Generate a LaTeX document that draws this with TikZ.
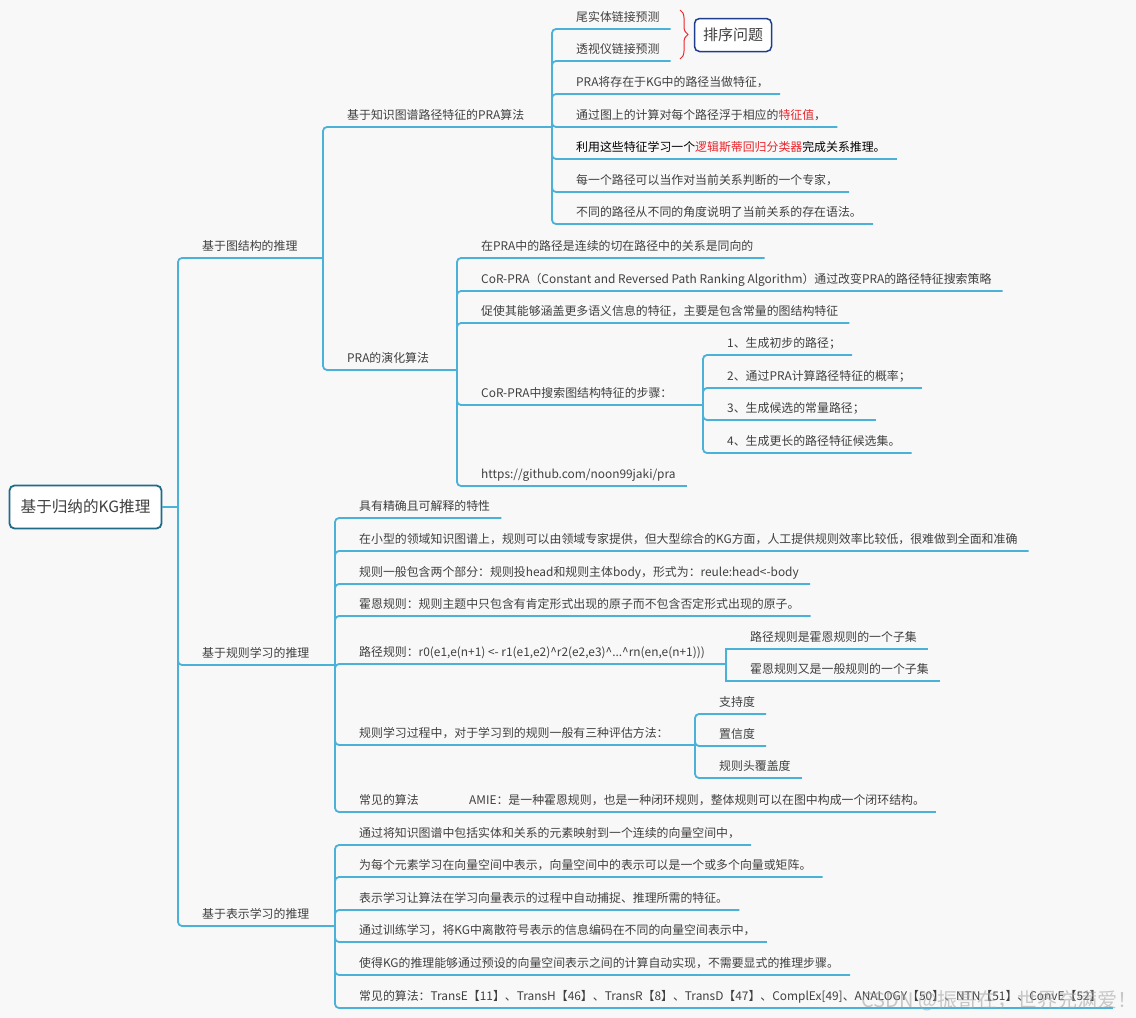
\documentclass[tikz,border=0pt]{standalone}
\usepackage{fontspec}
\setmainfont{Noto Sans CJK SC}
\usetikzlibrary{decorations.pathreplacing}
\definecolor{bg}{HTML}{F8F8F8}
\definecolor{branch}{HTML}{4AB2D8}
\definecolor{ink}{HTML}{404040}
\definecolor{hot}{HTML}{E8262C}
\definecolor{rootline}{HTML}{1F6B88}
\definecolor{tagline}{HTML}{1E3D8C}
\newcommand{\hl}[1]{\textcolor{hot}{#1}}
\newcommand{\ca}{\textasciicircum}

\begin{document}
\begin{tikzpicture}[x=1pt,y=-1pt]
\tikzstyle{topic}=[anchor=south west, inner xsep=11pt, inner ysep=4pt, text height=9pt, text depth=3pt, font=\fontsize{11.9}{14}\selectfont, text=ink]
\tikzstyle{link}=[draw=branch, line width=1.8pt, rounded corners=4pt]
\fill[bg] (0,0) rectangle (1136,1018);
\useasboundingbox (0,0) rectangle (1136,1018);

% root
\node (root) [draw=rootline, line width=1.8pt, rounded corners=5pt, fill=white, minimum width=152pt, minimum height=43pt, font=\fontsize{15.6}{18}\selectfont, text=ink] at (85.5,507) {基于归纳的KG推理};
\coordinate (f0) at (178,507);
\node (g1) [topic] at (191,258) {基于图结构的推理};
\node (g2) [topic] at (191,665) {基于规则学习的推理};
\node (g3) [topic] at (191,926) {基于表示学习的推理};

% graph structure
\coordinate (f1) at (323,258);
\node (a1) [topic] at (336,127) {基于知识图谱路径特征的PRA算法};
\node (a2) [topic] at (336,370) {PRA的演化算法};
\coordinate (fa1) at (552,127);
\node (p1) [topic] at (565,29) {尾实体链接预测};
\node (p2) [topic] at (565,61) {透视仪链接预测};
\node (p3) [topic] at (565,94) {PRA将存在于KG中的路径当做特征，};
\node (p4) [topic] at (565,127) {通过图上的计算对每个路径浮于相应的\hl{特征值}，};
\node (p5) [topic, text=black] at (565,159) {利用这些特征学习一个\hl{逻辑斯蒂回归分类器}完成关系推理。};
\node (p6) [topic] at (565,192) {每一个路径可以当作对当前关系判断的一个专家，};
\node (p7) [topic] at (565,224) {不同的路径从不同的角度说明了当前关系的存在语法。};
\coordinate (bt) at (680,10);
\coordinate (bb) at (680,59);
\node (tag) [draw=tagline, line width=1.5pt, rounded corners=5pt, fill=white, minimum width=77pt, minimum height=33pt, font=\fontsize{15}{18}\selectfont, text=ink] at (733,35) {排序问题};
\coordinate (fa2) at (457,370);
\node (e1) [topic] at (470,258) {在PRA中的路径是连续的切在路径中的关系是同向的};
\node (e2) [topic] at (470,291) {CoR-PRA（Constant and Reversed Path Ranking Algorithm）通过改变PRA的路径特征搜索策略};
\node (e3) [topic] at (470,323) {促使其能够涵盖更多语义信息的特征，主要是包含常量的图结构特征};
\node (e4) [topic] at (470,405) {CoR-PRA中搜索图结构特征的步骤：};
\node (e5) [topic] at (470,486) {https://github.com/noon99jaki/pra};
\coordinate (fe4) at (703,405);
\node (s1) [topic] at (716,355) {1、生成初步的路径；};
\node (s2) [topic] at (716,388) {2、通过PRA计算路径特征的概率；};
\node (s3) [topic] at (716,420) {3、生成候选的常量路径；};
\node (s4) [topic] at (716,453) {4、生成更长的路径特征候选集。};

% rule learning
\coordinate (f2) at (335,665);
\node (r1) [topic] at (348,518) {具有精确且可解释的特性};
\node (r2) [topic] at (348,551) {在小型的领域知识图谱上，规则可以由领域专家提供，但大型综合的KG方面，人工提供规则效率比较低，很难做到全面和准确};
\node (r3) [topic] at (348,584) {规则一般包含两个部分：规则投head和规则主体body，形式为：reule:head<-body};
\node (r4) [topic] at (348,616) {霍恩规则：规则主题中只包含有肯定形式出现的原子而不包含否定形式出现的原子。};
\node (r5) [topic] at (348,664) {路径规则：r0(e1,e(n+1) <- r1(e1,e2)\ca r2(e2,e3)\ca...\ca rn(en,e(n+1)))};
\node (r6) [topic] at (348,745) {规则学习过程中，对于学习到的规则一般有三种评估方法：};
\node (r7) [topic] at (348,812) {常见的算法};
\node (am) [topic] at (458,812) {AMIE：是一种霍恩规则，也是一种闭环规则，整体规则可以在图中构成一个闭环结构。};
\coordinate (fr5) at (726,664);
\node (h1) [topic] at (739,649) {路径规则是霍恩规则的一个子集};
\node (h2) [topic] at (739,681) {霍恩规则又是一般规则的一个子集};
\coordinate (fr6) at (695,745);
\node (m1) [topic] at (708,714) {支持度};
\node (m2) [topic] at (708,746) {置信度};
\node (m3) [topic] at (708,778) {规则头覆盖度};

% representation learning
\coordinate (f3) at (335,926);
\node (v1) [topic] at (348,845) {通过将知识图谱中包括实体和关系的元素映射到一个连续的向量空间中，};
\node (v2) [topic] at (348,877) {为每个元素学习在向量空间中表示，向量空间中的表示可以是一个或多个向量或矩阵。};
\node (v3) [topic] at (348,910) {表示学习让算法在学习向量表示的过程中自动捕捉、推理所需的特征。};
\node (v4) [topic] at (348,942) {通过训练学习，将KG中离散符号表示的信息编码在不同的向量空间表示中，};
\node (v5) [topic] at (348,975) {使得KG的推理能够通过预设的向量空间表示之间的计算自动实现，不需要显式的推理步骤。};
\node (v6) [topic] at (348,1008) {常见的算法：TransE【11】、TransH【46】、TransR【8】、TransD【47】、ComplEx[49]、ANALOGY【50】、NTN【51】、ConvE【52】};

% branches
\draw[link] (root.east) -- (f0);
\draw[link] (f0) |- (f1);
\draw[link] (f0) |- (f2);
\draw[link] (f0) |- (f3);
\draw[link] (f1) |- (fa1);
\draw[link] (f1) |- (fa2);
\foreach \n in {p1,p2,p3,p4,p5,p6,p7} \draw[link] (fa1) |- (\n.south east);
\foreach \n in {e1,e2,e3,e5} \draw[link] (fa2) |- (\n.south east);
\draw[link] (fa2) |- (fe4);
\foreach \n in {s1,s2,s3,s4} \draw[link] (fe4) |- (\n.south east);
\foreach \n in {r1,r2,r3,r4,r7} \draw[link] (f2) |- (\n.south east);
\draw[link] (f2) |- (fr5);
\draw[link] (f2) |- (fr6);
\draw[link] (r7.south east) -- (am.south east);
\foreach \n in {h1,h2} \draw[link, sharp corners] (fr5) |- (\n.south east);
\foreach \n in {m1,m2,m3} \draw[link] (fr6) |- (\n.south east);
\foreach \n in {v1,v2,v3,v4,v5,v6} \draw[link] (f3) |- (\n.south east);
\draw[hot, line width=1pt, decorate, decoration={brace, amplitude=8pt}] (bt) -- (bb);

\node (mark) [anchor=west, font=\fontsize{20}{24}\selectfont, text=gray!70, opacity=0.6] at (858,1001) {CSDN @振哥在，世界充满爱！};
\end{tikzpicture}
\end{document}
